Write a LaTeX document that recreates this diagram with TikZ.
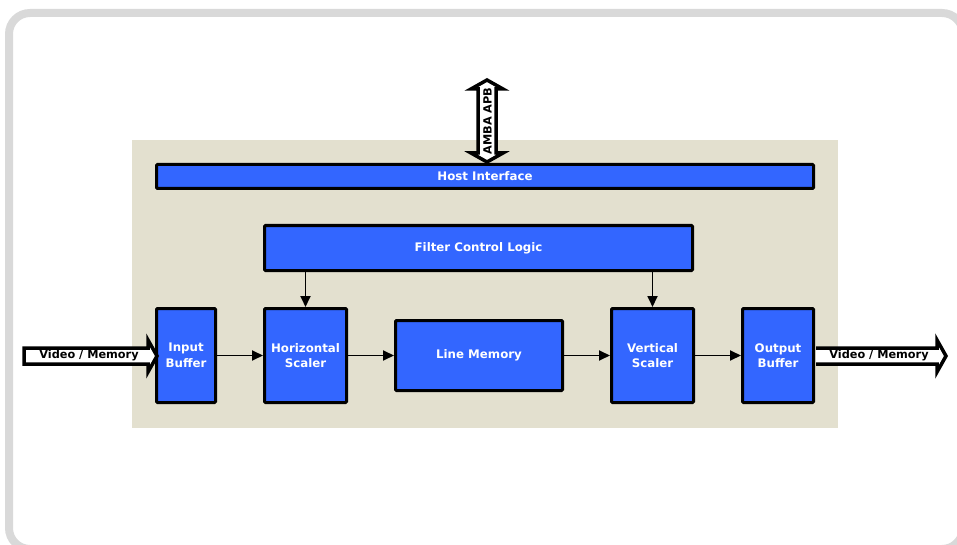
\documentclass[tikz,border=0pt]{standalone}
\usepackage{fontspec}
\setmainfont{DejaVu Sans}
\usetikzlibrary{arrows.meta}
\definecolor{framegray}{HTML}{D9D9D9}
\definecolor{beige}{HTML}{E3E0CF}
\definecolor{blockblue}{HTML}{3366FF}
\begin{document}
\begin{tikzpicture}[x=1pt,y=-1pt,
  blk/.style={draw=black, line width=3pt, fill=blockblue, rounded corners=1pt,
    text=white, font=\bfseries\fontsize{11.8}{15.5}\selectfont, align=center,
    inner sep=0pt, anchor=center},
  conn/.style={line width=1.8pt, -{Triangle[length=11pt,width=10pt]}},
  barrow/.style={draw=black, line width=3.5pt, fill=white, line join=miter},
  blabel/.style={font=\bfseries\fontsize{11.3}{12}\selectfont, text=black, inner sep=0pt}]
\useasboundingbox (0,0) rectangle (957,545);
% outer frame
\draw[framegray, line width=8pt, rounded corners=21pt] (9,13) rectangle (963,549);
% beige background
\fill[beige] (132,140) rectangle (838,428);
% blocks
\node[blk, minimum width=657pt, minimum height=24pt] (host) at (485,176.5) {Host Interface};
\node[blk, minimum width=428pt, minimum height=45pt] (fcl) at (478.5,248) {Filter Control Logic};
\node[blk, minimum width=59pt, minimum height=94pt] (ib) at (186,355.5) {Input\\Buffer};
\node[blk, minimum width=82pt, minimum height=94pt] (hs) at (305.5,355.5) {Horizontal\\Scaler};
\node[blk, minimum width=167pt, minimum height=70pt] (lm) at (479,355.5) {Line Memory};
\node[blk, minimum width=82pt, minimum height=94pt] (vs) at (652.5,355.5) {Vertical\\Scaler};
\node[blk, minimum width=71pt, minimum height=94pt] (ob) at (778,355.5) {Output\\Buffer};
% connectors
\draw[conn] (ib) -- (hs);
\draw[conn] (hs) -- (lm);
\draw[conn] (lm) -- (vs);
\draw[conn] (vs) -- (ob);
\draw[conn] (fcl.south -| hs) -- (hs);
\draw[conn] (fcl.south -| vs) -- (vs);
% AMBA APB double block arrow
\draw[barrow] (487,80) -- (503,89) -- (496,89) -- (496,153) -- (503,153) -- (487,162)
  -- (471,153) -- (478,153) -- (478,89) -- (471,89) -- cycle;
\node[blabel, rotate=90] (amba) at (487.5,121) {AMBA APB};
% Video / Memory in
\draw[barrow] (24,348) -- (148,348) -- (148,340) -- (157,356) -- (148,372) -- (148,364)
  -- (24,364) -- cycle;
\node[blabel] (vin) at (89,355.5) {Video / Memory};
% Video / Memory out
\draw[barrow] (816,348) -- (937,348) -- (937,340) -- (946,356) -- (937,372) -- (937,364)
  -- (816,364);
\node[blabel] (vout) at (879,355.5) {Video / Memory};
\end{tikzpicture}
\end{document}
